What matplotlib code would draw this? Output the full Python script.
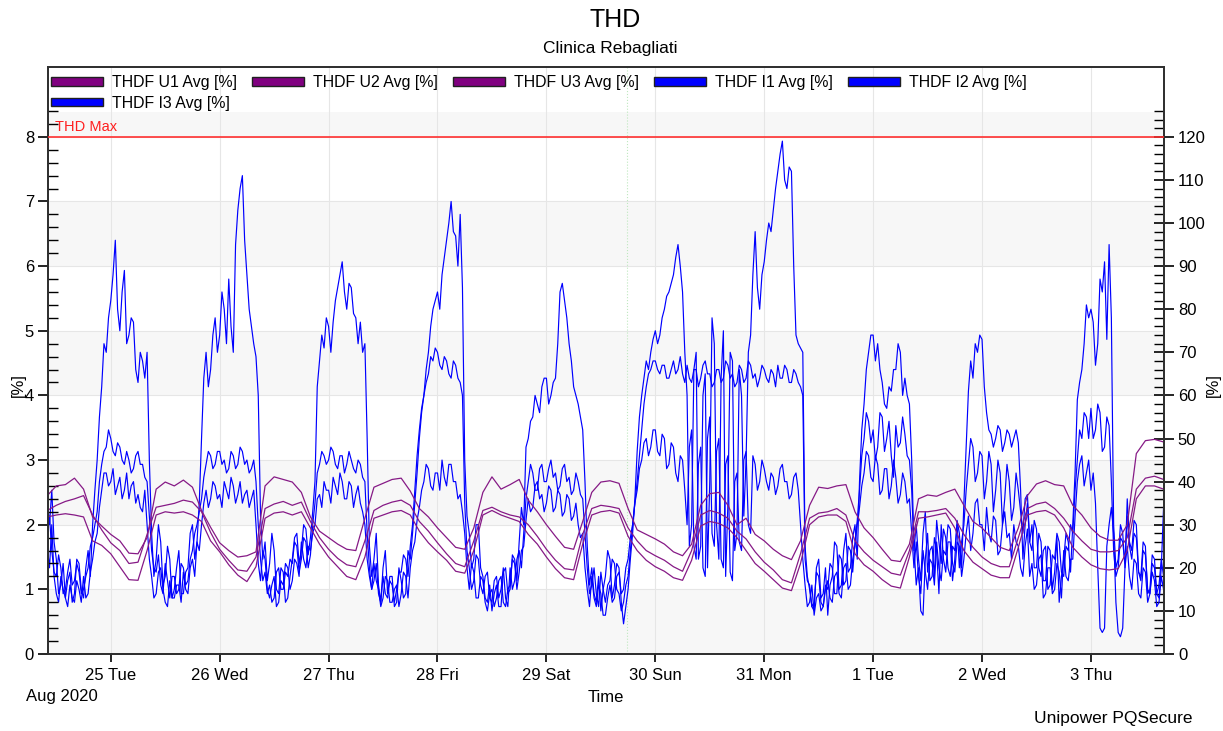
import numpy as np
import pandas as pd
import matplotlib
matplotlib.use('Agg')
import matplotlib.pyplot as plt
import matplotlib.dates as mdates
from matplotlib.patches import Patch
from matplotlib.ticker import FixedLocator, FuncFormatter

plt.rcParams['font.family'] = ['Liberation Sans', 'DejaVu Sans']

# Current THD [%], every 30 min from 2020-08-24 10:00 (one row per calendar day)
i1_thd = (
    [36, 30, 38, 26, 22, 14, 16, 21, 13, 17, 19, 12, 14, 22, 21, 15, 13, 20, 24, 18, 30, 38, 45, 55, 62, 72, 70, 78]
    + [82, 88, 96, 80, 75, 84, 89, 72, 74, 78, 77, 66, 63, 70, 68, 64, 70, 45, 28, 18, 22, 30, 26, 16,
       18, 25, 22, 13, 15, 20, 24, 14, 14, 19, 20, 28, 30, 22, 26, 35, 50, 64, 70, 62, 66, 74, 78, 70]
    + [74, 84, 80, 72, 87, 76, 70, 95, 103, 108, 111, 96, 88, 80, 76, 72, 69, 60, 32, 22, 26, 17, 21, 28,
       24, 15, 14, 20, 19, 12, 13, 18, 22, 27, 28, 21, 24, 30, 29, 23, 27, 33, 40, 62, 68, 74, 71, 78]
    + [76, 70, 77, 82, 85, 88, 91, 84, 80, 86, 85, 79, 78, 72, 77, 70, 72, 50, 25, 18, 22, 28, 16, 12,
       20, 24, 14, 18, 18, 11, 12, 20, 17, 13, 14, 24, 22, 28, 35, 42, 50, 56, 60, 66, 70, 76, 80, 82]
    + [84, 80, 88, 92, 96, 100, 105, 98, 97, 90, 102, 85, 45, 32, 28, 20, 22, 30, 30, 20, 18, 13, 12, 16,
       10, 14, 16, 11, 11, 19, 20, 14, 15, 23, 22, 17, 26, 34, 30, 48, 50, 54, 55, 60, 58, 56, 62, 64]
    + [64, 58, 60, 63, 64, 72, 84, 86, 82, 78, 72, 68, 62, 60, 58, 55, 52, 40, 25, 16, 20, 14, 12, 18,
       10, 15, 18, 24, 22, 13, 16, 21, 20, 12, 7, 11, 15, 22, 28, 36, 47, 55, 60, 64, 68, 66, 70, 73]
    + [75, 72, 74, 78, 80, 83, 84, 86, 88, 92, 95, 90, 84, 70, 60, 25, 30, 66, 70, 22, 25, 60, 65, 20,
       40, 78, 72, 30, 22, 64, 75, 18, 35, 70, 68, 24, 28, 66, 60, 32, 45, 70, 74, 88, 98, 85, 80, 88]
    + [91, 96, 100, 98, 103, 108, 112, 116, 119, 110, 108, 113, 112, 90, 74, 72, 71, 70, 25, 18, 15, 11, 10, 20,
       22, 13, 14, 20, 9, 16, 18, 26, 25, 15, 16, 24, 28, 19, 20, 27, 30, 22, 40, 52, 58, 66, 70, 74]
    + [74, 68, 72, 66, 63, 58, 57, 62, 61, 66, 66, 72, 70, 60, 64, 60, 58, 45, 25, 16, 20, 10, 9, 22,
       28, 17, 18, 27, 24, 14, 30, 22, 19, 26, 26, 17, 22, 31, 28, 20, 35, 48, 61, 68, 64, 72, 70, 74]
    + [73, 62, 56, 52, 51, 48, 50, 53, 52, 47, 49, 52, 51, 48, 50, 52, 49, 38, 22, 30, 35, 26, 30, 20,
       20, 28, 26, 17, 17, 25, 24, 15, 19, 27, 12, 18, 22, 28, 26, 19, 30, 42, 59, 63, 66, 72, 81, 78]
    + [80, 77, 67, 72, 87, 84, 91, 73, 95, 78, 30, 20, 22, 30, 28, 20, 36, 26, 24, 31, 30, 19, 18, 26,
       25, 14, 15, 23, 22, 14, 13, 20, 34]
)
i2_thd = (
    [28, 32, 24, 19, 18, 23, 20, 14, 15, 19, 22, 16, 17, 21, 19, 14, 15, 18, 20, 25, 27, 30, 33, 40, 44, 47, 48, 52]
    + [50, 47, 46, 49, 48, 45, 44, 47, 45, 42, 43, 46, 47, 44, 44, 41, 40, 32, 24, 20, 19, 23, 16, 14,
       21, 17, 13, 18, 18, 14, 15, 21, 20, 16, 17, 22, 24, 28, 30, 33, 36, 41, 44, 47, 46, 43, 44, 47]
    + [47, 44, 45, 42, 43, 47, 46, 43, 44, 48, 47, 44, 45, 42, 43, 45, 40, 30, 22, 17, 19, 14, 16, 12,
       13, 19, 20, 15, 15, 19, 18, 22, 21, 26, 25, 19, 22, 27, 26, 20, 23, 30, 35, 42, 44, 47, 46, 44]
    + [45, 48, 47, 44, 43, 46, 46, 42, 44, 47, 45, 43, 42, 45, 44, 41, 40, 28, 20, 15, 17, 21, 14, 12,
       18, 14, 13, 17, 16, 12, 15, 19, 19, 23, 22, 18, 25, 30, 38, 46, 52, 57, 60, 63, 65, 69, 68, 71]
    + [70, 67, 66, 69, 68, 65, 64, 68, 67, 64, 63, 60, 35, 24, 20, 15, 17, 23, 22, 16, 14, 18, 19, 13,
       12, 17, 18, 13, 15, 20, 13, 11, 20, 15, 17, 22, 24, 20, 28, 36, 40, 44, 42, 38, 38, 43, 44, 40]
    + [40, 43, 45, 41, 42, 38, 39, 43, 44, 40, 41, 37, 38, 42, 40, 37, 36, 28, 20, 14, 16, 20, 14, 11,
       19, 15, 12, 16, 17, 22, 21, 15, 14, 10, 12, 16, 18, 24, 30, 35, 40, 46, 52, 58, 62, 65, 66, 68]
    + [68, 66, 65, 67, 67, 64, 64, 66, 68, 65, 66, 69, 65, 63, 67, 64, 63, 66, 66, 62, 64, 67, 68, 65,
       65, 62, 63, 66, 66, 63, 64, 68, 67, 64, 65, 62, 63, 67, 66, 63, 64, 68, 67, 64, 65, 62, 64, 67]
    + [66, 64, 63, 66, 65, 62, 67, 64, 64, 67, 66, 63, 63, 66, 65, 63, 62, 60, 22, 17, 16, 11, 12, 19,
       18, 12, 11, 16, 15, 21, 20, 14, 14, 23, 22, 16, 17, 25, 24, 19, 26, 31, 38, 46, 50, 56, 54, 49]
    + [52, 45, 48, 56, 55, 47, 50, 54, 46, 41, 53, 48, 49, 55, 51, 46, 45, 38, 24, 30, 22, 17, 28, 33,
       19, 24, 25, 18, 31, 26, 21, 29, 27, 20, 18, 25, 24, 30, 20, 26, 30, 38, 44, 50, 48, 40, 42, 47]
    + [46, 36, 40, 47, 44, 33, 38, 45, 42, 30, 36, 44, 40, 31, 34, 42, 38, 33, 28, 36, 37, 26, 24, 31,
       29, 20, 18, 24, 25, 15, 16, 23, 22, 28, 26, 19, 18, 25, 24, 30, 28, 38, 45, 52, 50, 56, 55, 50]
    + [57, 50, 52, 58, 56, 47, 48, 55, 53, 40, 24, 18, 20, 27, 26, 21, 32, 25, 22, 28, 27, 19, 17, 24,
       23, 15, 14, 21, 20, 14, 16, 22, 18]
)
i3_thd = (
    [25, 20, 30, 18, 14, 12, 18, 15, 13, 11, 16, 13, 12, 17, 15, 12, 18, 13, 14, 19, 22, 26, 28, 34, 38, 42, 42, 39]
    + [40, 43, 37, 39, 41, 36, 38, 42, 36, 39, 40, 35, 37, 34, 33, 38, 30, 22, 18, 13, 14, 19, 20, 15,
       12, 11, 17, 13, 13, 16, 16, 12, 19, 15, 14, 20, 22, 18, 26, 24, 30, 35, 38, 34, 36, 40, 39, 36]
    + [37, 34, 40, 38, 36, 41, 39, 35, 37, 40, 35, 37, 38, 34, 36, 38, 30, 21, 17, 24, 22, 15, 13, 16,
       18, 11, 12, 17, 16, 21, 20, 15, 17, 22, 21, 18, 26, 22, 20, 25, 24, 28, 30, 36, 37, 34, 40, 38]
    + [38, 35, 41, 39, 37, 42, 40, 36, 36, 40, 39, 34, 37, 39, 35, 33, 30, 22, 18, 15, 21, 17, 15, 11,
       13, 18, 17, 12, 12, 15, 16, 11, 14, 19, 18, 13, 20, 24, 26, 31, 34, 38, 40, 44, 43, 39, 38, 42]
    + [42, 38, 45, 41, 39, 44, 44, 40, 40, 36, 37, 33, 28, 20, 15, 21, 19, 13, 13, 18, 17, 12, 10, 14,
       15, 11, 13, 17, 18, 12, 11, 15, 16, 22, 21, 15, 19, 24, 25, 31, 36, 33, 34, 39, 40, 36, 37, 33]
    + [35, 39, 38, 33, 34, 38, 37, 32, 33, 37, 36, 31, 32, 35, 30, 27, 28, 20, 15, 11, 18, 13, 11, 16,
       14, 9, 9, 13, 16, 12, 13, 18, 19, 14, 15, 20, 22, 27, 30, 35, 38, 43, 45, 49, 50, 46, 48, 52]
    + [52, 47, 46, 51, 50, 43, 44, 49, 48, 42, 40, 46, 45, 38, 30, 48, 52, 25, 22, 44, 48, 20, 18, 50,
       55, 28, 25, 47, 50, 22, 20, 44, 46, 19, 17, 40, 42, 26, 24, 45, 47, 30, 28, 46, 44, 38, 40, 45]
    + [43, 40, 38, 42, 41, 37, 39, 43, 44, 40, 40, 36, 37, 41, 42, 38, 30, 22, 16, 11, 12, 16, 9, 13,
       14, 10, 11, 15, 17, 13, 12, 18, 19, 14, 13, 20, 21, 15, 16, 22, 25, 30, 34, 39, 42, 47, 46, 41]
    + [40, 46, 44, 37, 38, 43, 43, 36, 39, 45, 41, 35, 37, 42, 40, 35, 36, 28, 20, 26, 18, 14, 24, 19,
       15, 22, 21, 16, 26, 20, 17, 24, 23, 30, 29, 21, 19, 26, 25, 18, 22, 28, 32, 24, 28, 35, 36, 30]
    + [30, 24, 34, 28, 26, 32, 31, 23, 24, 30, 33, 27, 28, 22, 30, 26, 25, 20, 18, 25, 29, 18, 21, 15,
       16, 22, 23, 13, 14, 20, 20, 14, 15, 21, 19, 13, 24, 18, 17, 22, 22, 32, 40, 44, 46, 39, 42, 45]
    + [38, 42, 35, 20, 6, 5, 6, 25, 30, 34, 28, 12, 5, 4, 6, 20, 25, 18, 15, 22, 21, 14, 13, 20,
       19, 12, 14, 19, 17, 11, 12, 18, 15]
)

# Voltage THD [%], every 2 hours from 2020-08-24 10:00
u1_thd = (
    [2.45, 2.6, 2.62, 2.72, 2.55, 2.12, 1.98]
    + [1.85, 1.75, 1.56, 1.55, 1.8, 2.55, 2.66, 2.6, 2.69, 2.58, 2.22, 1.96]
    + [1.72, 1.6, 1.5, 1.52, 1.58, 2.6, 2.74, 2.7, 2.66, 2.5, 2.12, 1.9]
    + [1.8, 1.7, 1.62, 1.6, 2.1, 2.58, 2.64, 2.7, 2.72, 2.52, 2.25, 2.12]
    + [1.95, 1.8, 1.65, 1.62, 1.95, 2.5, 2.74, 2.55, 2.62, 2.7, 2.38, 2.2]
    + [2.0, 1.82, 1.65, 1.62, 2.05, 2.5, 2.66, 2.68, 2.64, 2.25, 1.92, 1.85]
    + [1.78, 1.7, 1.58, 1.52, 1.7, 2.3, 2.48, 2.5, 2.3, 2.0, 2.1, 1.85]
    + [1.75, 1.62, 1.52, 1.46, 1.75, 2.3, 2.58, 2.56, 2.6, 2.62, 2.2, 1.95]
    + [1.8, 1.62, 1.45, 1.43, 1.7, 2.4, 2.46, 2.44, 2.5, 2.55, 2.3, 2.05]
    + [1.95, 1.8, 1.65, 1.6, 1.95, 2.45, 2.63, 2.68, 2.62, 2.6, 2.3, 2.15]
    + [1.95, 1.82, 1.76, 1.76, 2.0, 3.1, 3.3, 3.32, 3.28]
)
u2_thd = (
    [2.22, 2.3, 2.36, 2.4, 2.45, 2.15, 1.92]
    + [1.72, 1.6, 1.4, 1.42, 1.85, 2.27, 2.3, 2.33, 2.38, 2.35, 2.2, 1.88]
    + [1.62, 1.45, 1.3, 1.28, 1.5, 2.25, 2.32, 2.36, 2.3, 2.35, 2.05, 1.8]
    + [1.62, 1.48, 1.38, 1.35, 1.75, 2.22, 2.3, 2.35, 2.38, 2.3, 2.05, 1.9]
    + [1.72, 1.55, 1.4, 1.35, 1.75, 2.22, 2.27, 2.2, 2.15, 2.12, 2.0, 1.82]
    + [1.62, 1.45, 1.32, 1.3, 1.85, 2.25, 2.3, 2.28, 2.25, 1.95, 1.75, 1.6]
    + [1.52, 1.45, 1.35, 1.28, 1.6, 2.15, 2.22, 2.18, 2.1, 1.9, 1.78, 1.58]
    + [1.42, 1.3, 1.15, 1.1, 1.55, 2.1, 2.18, 2.2, 2.25, 2.15, 1.75, 1.58]
    + [1.45, 1.35, 1.25, 1.22, 1.6, 2.2, 2.2, 2.22, 2.25, 2.1, 1.85, 1.65]
    + [1.5, 1.4, 1.35, 1.35, 1.8, 2.25, 2.32, 2.35, 2.25, 2.1, 1.9, 1.75]
    + [1.62, 1.58, 1.58, 1.6, 1.8, 2.55, 2.72, 2.75, 2.7]
)
u3_thd = (
    [2.12, 2.15, 2.17, 2.15, 2.12, 1.75, 1.68]
    + [1.55, 1.35, 1.15, 1.14, 1.6, 2.15, 2.2, 2.18, 2.2, 2.15, 2.05, 1.75]
    + [1.58, 1.38, 1.22, 1.12, 1.35, 2.1, 2.18, 2.2, 2.15, 2.2, 1.95, 1.7]
    + [1.5, 1.35, 1.2, 1.15, 1.5, 2.1, 2.15, 2.2, 2.22, 2.15, 1.9, 1.72]
    + [1.58, 1.45, 1.28, 1.25, 1.6, 2.15, 2.22, 2.15, 2.1, 2.05, 1.85, 1.7]
    + [1.5, 1.32, 1.18, 1.15, 1.7, 2.15, 2.2, 2.22, 2.18, 1.82, 1.6, 1.45]
    + [1.35, 1.28, 1.18, 1.14, 1.45, 1.98, 2.05, 2.02, 1.95, 1.8, 1.6, 1.4]
    + [1.28, 1.15, 1.02, 0.98, 1.4, 2.0, 2.12, 2.15, 2.15, 2.05, 1.55, 1.38]
    + [1.28, 1.15, 1.05, 1.02, 1.5, 2.1, 2.12, 2.15, 2.18, 1.95, 1.6, 1.42]
    + [1.32, 1.22, 1.18, 1.18, 1.65, 2.15, 2.2, 2.22, 2.15, 1.95, 1.65, 1.5]
    + [1.38, 1.32, 1.3, 1.32, 1.6, 2.4, 2.6, 2.6, 2.55]
)

u_labels = ['THDF U1 Avg [%]', 'THDF U2 Avg [%]', 'THDF U3 Avg [%]']
i_labels = ['THDF I1 Avg [%]', 'THDF I2 Avg [%]', 'THDF I3 Avg [%]']

thd_max = 8
event_time = pd.Timestamp('2020-08-29 17:45')
start = pd.Timestamp('2020-08-24 10:00')
t_cur = pd.date_range(start, periods=len(i1_thd), freq='30min')
t_volt = pd.date_range(start, periods=len(u1_thd), freq='2h')

purple = '#861a86'
blue = '#0000ff'
band = '#f7f7f7'
grid = '#e6e6e6'
ratio = 15          # right axis [%] per left axis [%]
ytop = 9.08

fig = plt.figure(figsize=(12.23, 7.31), dpi=100)
W, H = 1223, 731
ax = fig.add_axes([48 / W, 1 - 654 / H, (1164 - 48) / W, (654 - 67) / H])
axv = ax.twinx()
ax.yaxis.tick_right()
axv.yaxis.tick_left()

# background bands and grid
for k in (0, 2, 4, 6, 8):
    ax.axhspan(k * ratio, min(k + 1, 8.38) * ratio, color=band, lw=0, zorder=0)
for k in range(1, 9):
    ax.axhline(k * ratio, color=grid, lw=0.8, zorder=0.5)
ax.grid(axis='x', color=grid, lw=0.8)
ax.set_axisbelow(True)
ax.axvline(event_time, color='#bfe8bf', lw=0.8, ls=':', zorder=0.6)

# currents on the right scale, voltages on the left
for vals in (i1_thd, i2_thd, i3_thd):
    ax.plot(t_cur, vals, color=blue, lw=0.85, zorder=2)
for vals in (u1_thd, u2_thd, u3_thd):
    axv.plot(t_volt, vals, color=purple, lw=0.9, zorder=2)

axv.axhline(thd_max, color='#ff3030', lw=1.2, zorder=3)
axv.text(0.006, thd_max + 0.05, 'THD Max', color='#ff2020', fontsize=10.5,
         transform=axv.get_yaxis_transform(), ha='left', va='bottom')

ax.set_xlim(pd.Timestamp('2020-08-24 10:10'), pd.Timestamp('2020-09-03 16:06'))
axv.set_ylim(0, ytop)
ax.set_ylim(0, ytop * ratio)

ax.xaxis.set_major_locator(mdates.DayLocator())
ax.xaxis.set_major_formatter(FuncFormatter(
    lambda v, pos: f"{mdates.num2date(v).day} {mdates.num2date(v):%a}"))

axv.set_yticks(range(0, 9))
axv.yaxis.set_minor_locator(FixedLocator(np.arange(0.2, 8.5, 0.2)))
ax.set_yticks(range(0, 121, 10))
ax.yaxis.set_minor_locator(FixedLocator(np.arange(2, 127, 2)))

axv.tick_params(axis='y', which='major', direction='out', length=7, width=1.2,
                labelsize=12, pad=3)
axv.tick_params(axis='y', which='minor', direction='in', length=7, width=1)
ax.tick_params(axis='y', which='major', direction='inout', length=14, width=1.2,
               labelsize=12, pad=3)
ax.tick_params(axis='y', which='minor', direction='in', length=7, width=1)
ax.tick_params(axis='x', which='major', direction='out', length=6, width=1.2,
               labelsize=12, pad=4)

for a in (ax, axv):
    for s in a.spines.values():
        s.set_color('#303030')
        s.set_linewidth(1.3)

# legend: first row U1 U2 U3 I1 I2, I3 below U1
h_u = [Patch(facecolor='#800080', edgecolor='#202020', lw=1, label=l) for l in u_labels]
h_i = [Patch(facecolor=blue, edgecolor='#202020', lw=1, label=l) for l in i_labels]
handles = [h_u[0], h_i[2], h_u[1], h_u[2], h_i[0], h_i[1]]
axv.legend(handles=handles, ncol=5, loc='upper left', bbox_to_anchor=(0, 0.9915),
           frameon=False, fontsize=11.4, handlelength=3.3, handleheight=0.45,
           handletextpad=0.55, columnspacing=0.95, labelspacing=0.35,
           borderaxespad=0, borderpad=0.2)

fig.text(615 / W, 1 - 20 / H, 'THD', ha='center', va='center', fontsize=18)
fig.text(610 / W, 1 - 48 / H, 'Clinica Rebagliati', ha='center', va='center', fontsize=12.5)
fig.text(1192 / W, 1 - 719 / H, 'Unipower PQSecure', ha='right', va='center', fontsize=12.5)
fig.text(26 / W, 1 - 697 / H, 'Aug 2020', ha='left', va='center', fontsize=12)
fig.text(606 / W, 1 - 697 / H, 'Time', ha='center', va='center', fontsize=12)
fig.text(18 / W, 1 - 385 / H, '[%]', ha='center', va='center', rotation=90, fontsize=12)
fig.text(1213 / W, 1 - 385 / H, '[%]', ha='center', va='center', rotation=90, fontsize=12)

fig.savefig('out.png', dpi=100)
